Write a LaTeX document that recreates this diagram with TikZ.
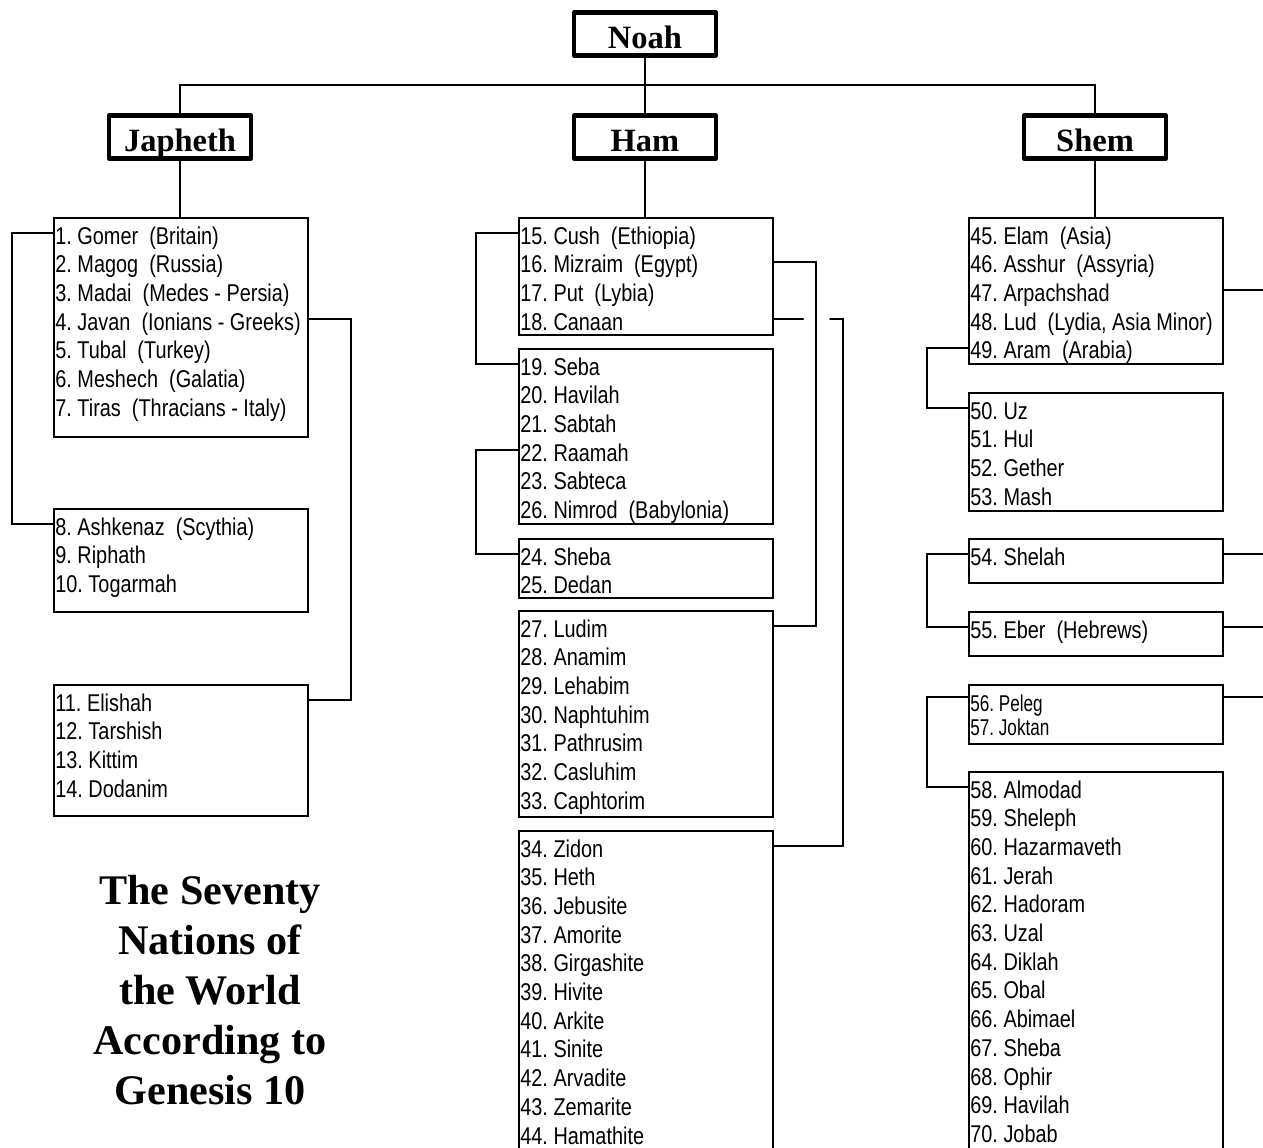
\documentclass[tikz,border=0pt]{standalone}
\usepackage{fontspec}
\newfontfamily\listfont[FakeStretch=0.82]{Liberation Sans}
\newfontfamily\pelegfont[FakeStretch=0.75]{Liberation Sans}
\newfontfamily\headfont{Liberation Serif}
\frenchspacing
\tikzset{
  son/.style={draw, line width=2.4pt, line join=round, minimum width=2.84cm, minimum height=0.86cm, inner sep=0pt, text height=17pt, text depth=1pt, font=\headfont\bfseries\fontsize{18.5}{20}\selectfont},
  nationbox/.style={draw, line width=1.2pt, anchor=north west, inner sep=0pt, minimum width=5.08cm},
  nation/.style={anchor=base west, inner sep=0pt, text height=12.5pt, text depth=0pt, font=\listfont\fontsize{13.8}{16}\selectfont},
  smallnation/.style={nation, text height=15.5pt, font=\pelegfont\fontsize{13}{15}\selectfont},
  tree/.style={line width=0.8pt},
  link/.style={line width=1.1pt},
  title/.style={align=center, font=\headfont\bfseries\fontsize{24}{28.5}\selectfont}
}
\newcommand{\nationlist}[5]{%
  \node[nationbox, minimum height={(#4-#3)*0.02cm}] (#1) at (#2,#3) {};
  \foreach \nm [count=\k] in {#5}
    \node[nation] (#1-\k) at ({#2+2},{#3+27+(\k-1)*28.7}) {\nm};
}
\begin{document}
\begin{tikzpicture}[x=0.02cm, y=-0.02cm, line cap=round]
\useasboundingbox (0,0) rectangle (1263,1147);
\node[son] (noah) at (645,34) {Noah};
\node[son] (japheth) at (180,137) {Japheth};
\node[son] (ham) at (645,137) {Ham};
\node[son] (shem) at (1095,137) {Shem};
\coordinate (bar) at (645,85);
\draw[tree] (noah) -- (bar) (japheth) |- (bar) -| (shem) (bar) -- (ham);

\nationlist{jA}{53}{217}{436}{{1. Gomer~~(Britain)},{2. Magog~~(Russia)},{3. Madai~~(Medes - Persia)},{4. Javan~~(Ionians - Greeks)},{5. Tubal~~(Turkey)},{6. Meshech~~(Galatia)},{7. Tiras~~(Thracians - Italy)}}
\nationlist{jB}{53}{508}{611}{{8. Ashkenaz~~(Scythia)},{9. Riphath},{10. Togarmah}}
\nationlist{jC}{53}{684}{815}{{11. Elishah},{12. Tarshish},{13. Kittim},{14. Dodanim}}
\nationlist{hA}{518}{217}{334}{{15. Cush~~(Ethiopia)},{16. Mizraim~~(Egypt)},{17. Put~~(Lybia)},{18. Canaan}}
\nationlist{hB}{518}{348}{523}{{19. Seba},{20. Havilah},{21. Sabtah},{22. Raamah},{23. Sabteca},{26. Nimrod~~(Babylonia)}}
\nationlist{hC}{518}{538}{597}{{24. Sheba},{25. Dedan}}
\nationlist{hD}{518}{610}{816}{{27. Ludim},{28. Anamim},{29. Lehabim},{30. Naphtuhim},{31. Pathrusim},{32. Casluhim},{33. Caphtorim}}
\nationlist{hE}{518}{830}{1160}{{34. Zidon},{35. Heth},{36. Jebusite},{37. Amorite},{38. Girgashite},{39. Hivite},{40. Arkite},{41. Sinite},{42. Arvadite},{43. Zemarite},{44. Hamathite}}
\nationlist{sA}{968}{217}{363}{{45. Elam~~(Asia)},{46. Asshur~~(Assyria)},{47. Arpachshad},{48. Lud~~(Lydia, Asia Minor)},{49. Aram~~(Arabia)}}
\nationlist{sB}{968}{392}{510}{{50. Uz},{51. Hul},{52. Gether},{53. Mash}}
\nationlist{sC}{968}{538}{582}{{54. Shelah}}
\nationlist{sD}{968}{611}{655}{{55. Eber~~(Hebrews)}}
\node[nationbox, minimum height=1.18cm] (sE) at (968,684) {};
\node[smallnation] (sE-1) at (970,711) {56. Peleg};
\node[smallnation] (sE-2) at (970,735) {57. Joktan};
\nationlist{sF}{968}{771}{1160}{{58. Almodad},{59. Sheleph},{60. Hazarmaveth},{61. Jerah},{62. Hadoram},{63. Uzal},{64. Diklah},{65. Obal},{66. Abimael},{67. Sheba},{68. Ophir},{69. Havilah},{70. Jobab}}

\draw[tree] (japheth.south) -- (japheth.south |- jA.north) (ham.south) -- (ham.south |- hA.north) (shem.south) -- (shem.south |- sA.north);

\draw[link] (jA.west |- jA-1.west) -- ++(-41,0) |- (jB.west |- jB-1.west);
\draw[link] (jA.east |- jA-4.west) -- ++(42,0) |- (jC.east |- jC-1.west);
\draw[link] (hA.west |- hA-1.west) -- ++(-42,0) |- (hB.west |- hB-1.west);
\draw[link] (hB.west |- hB-4.west) -- ++(-42,0) |- (hC.west |- hC-1.west);
\draw[link] (hA.east |- hA-2.west) -- ++(42,0) |- (hD.east |- hD-1.west);
\draw[link] (hA.east |- hA-4.west) -- ++(29,0) ++(27,0) -- ++(13,0) |- (hE.east |- hE-1.west);
\draw[link] (sA.east |- sA-3.west) -- ++(50,0);
\draw[link] (sA.west |- sA-5.west) -- ++(-41,0) |- (sB.west |- sB-1.west);
\draw[link] (sC.west |- sC-1.west) -- ++(-41,0) |- (sD.west |- sD-1.west);
\draw[link] (sC.east |- sC-1.west) -- ++(50,0);
\draw[link] (sD.east |- sD-1.west) -- ++(50,0);
\draw[link] (sE.west |- sE-1.west) -- ++(-41,0) |- (sF.west |- sF-1.west);
\draw[link] (sE.east |- sE-1.west) -- ++(50,0);

\node[title] (heading) at (210,990) {The Seventy\\Nations of\\the World\\According to\\Genesis 10};
\end{tikzpicture}
\end{document}
